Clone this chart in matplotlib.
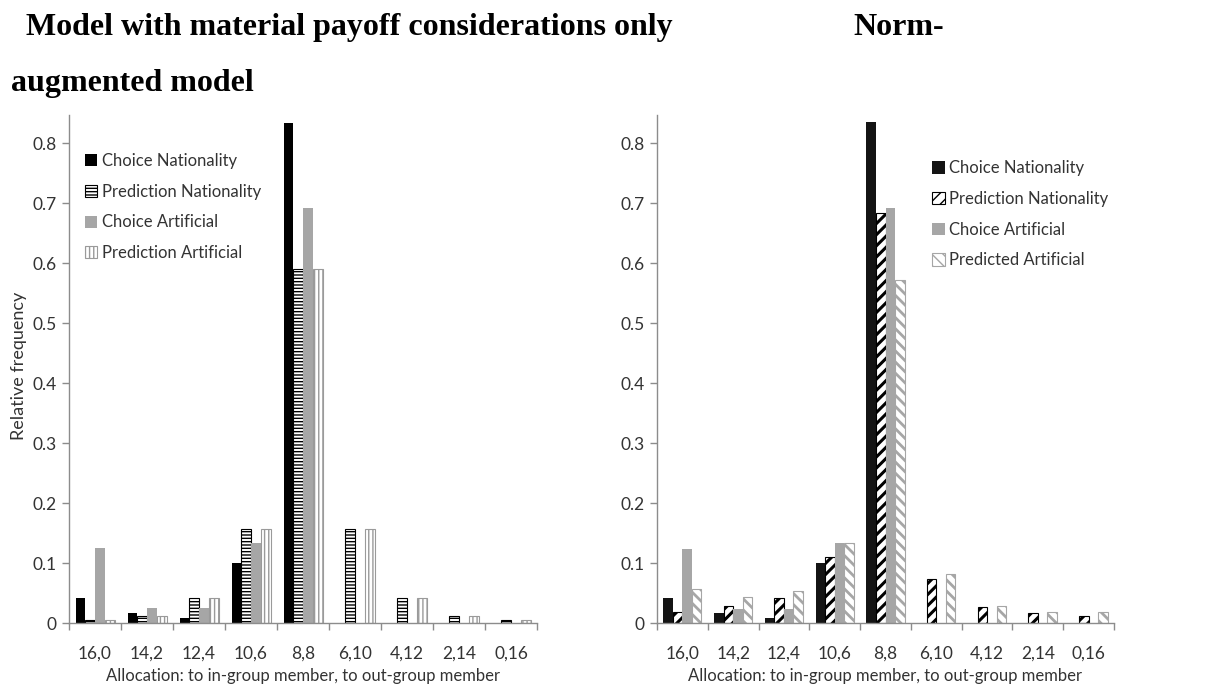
import matplotlib
matplotlib.use("Agg")
import matplotlib.pyplot as plt
import numpy as np

categories = ["16,0", "14,2", "12,4", "10,6", "8,8", "6,10", "4,12", "2,14", "0,16"]

# Left panel: model with material payoff considerations only
left_choice_nat = [0.042, 0.016, 0.008, 0.100, 0.833, 0.0, 0.0, 0.0, 0.0]
left_pred_nat = [0.005, 0.012, 0.042, 0.156, 0.590, 0.156, 0.042, 0.012, 0.005]
left_choice_art = [0.125, 0.025, 0.025, 0.134, 0.692, 0.0, 0.0, 0.0, 0.0]
left_pred_art = [0.005, 0.012, 0.042, 0.156, 0.590, 0.156, 0.042, 0.012, 0.005]

# Right panel: norm-augmented model
right_choice_nat = [0.042, 0.016, 0.008, 0.100, 0.835, 0.0, 0.0, 0.0, 0.0]
right_pred_nat = [0.018, 0.028, 0.042, 0.110, 0.683, 0.074, 0.027, 0.017, 0.012]
right_choice_art = [0.124, 0.024, 0.024, 0.134, 0.692, 0.0, 0.0, 0.0, 0.0]
right_pred_art = [0.056, 0.044, 0.053, 0.134, 0.572, 0.082, 0.028, 0.018, 0.018]

left_labels = ["Choice Nationality", "Prediction Nationality", "Choice Artificial", "Prediction Artificial"]
right_labels = ["Choice Nationality", "Prediction Nationality", "Choice Artificial", "Predicted Artificial"]
ytick_vals = [0, 0.1, 0.2, 0.3, 0.4, 0.5, 0.6, 0.7, 0.8]
ytick_labels = ["0", "0.1", "0.2", "0.3", "0.4", "0.5", "0.6", "0.7", "0.8"]

FONT = "Lato"
TXT = "#333333"
AXC = "#8c8c8c"
GRAY = "#a6a6a6"

W, H = 1217, 688
fig = plt.figure(figsize=(W / 100, H / 100), dpi=100)


def px_axes(x0, x1, ytop, ybot):
    return fig.add_axes([x0 / W, 1 - ybot / H, (x1 - x0) / W, (ybot - ytop) / H])


ax1 = px_axes(69, 537, 115, 623)
ax2 = px_axes(657, 1114, 115, 623)

bw = 0.1875
x = np.arange(len(categories))


def set_hlw(patches, lw):
    for p in patches:
        if hasattr(p, "set_hatch_linewidth"):
            p.set_hatch_linewidth(lw)


def draw(ax, series, labels, styles):
    handles = []
    for i, (vals, lab, st) in enumerate(zip(series, labels, styles)):
        with plt.rc_context({"hatch.linewidth": st.get("hlw", 1.0)}):
            b = ax.bar(x + (i - 1.5) * bw, vals, width=bw, color=st["fc"],
                       edgecolor=st["ec"], hatch=st.get("hatch"), linewidth=st.get("lw", 0),
                       label=lab, zorder=2)
        set_hlw(b.patches, st.get("hlw", 1.0))
        handles.append(b)
    ax.set_xlim(-0.5, len(categories) - 0.5)
    ax.set_ylim(0, 0.847)
    ax.set_yticks(ytick_vals)
    ax.set_yticklabels(ytick_labels, fontsize=12.5, color=TXT, family=FONT)
    ax.set_xticks(np.arange(-0.5, len(categories)), minor=False)
    ax.set_xticklabels([])
    ax.set_xticks(x, minor=True)
    ax.set_xticklabels(categories, minor=True, fontsize=12.5, color=TXT, family=FONT)
    ax.tick_params(axis="x", which="major", length=5, color=AXC, width=1)
    ax.tick_params(axis="x", which="minor", length=0, pad=16)
    ax.tick_params(axis="y", length=5, color=AXC, width=1, pad=4)
    for s in ["top", "right"]:
        ax.spines[s].set_visible(False)
    for s in ["left", "bottom"]:
        ax.spines[s].set_color(AXC)
        ax.spines[s].set_linewidth(1)
    ax.set_xlabel("Allocation: to in-group member, to out-group member",
                  fontsize=12, color=TXT, family=FONT, labelpad=5)
    return handles


left_styles = [
    {"fc": "#000000", "ec": "#000000"},
    {"fc": "white", "ec": "#000000", "hatch": "-----", "lw": 0.8, "hlw": 1.0},
    {"fc": GRAY, "ec": GRAY},
    {"fc": "white", "ec": "#9a9a9a", "hatch": "||||", "lw": 0.8, "hlw": 1.0},
]
right_styles = [
    {"fc": "#141414", "ec": "#141414"},
    {"fc": "white", "ec": "#000000", "hatch": "///", "lw": 0.8, "hlw": 2.2},
    {"fc": GRAY, "ec": GRAY},
    {"fc": "white", "ec": "#a6a6a6", "hatch": "\\\\\\", "lw": 0.8, "hlw": 2.0},
]

h1 = draw(ax1, [left_choice_nat, left_pred_nat, left_choice_art, left_pred_art], left_labels, left_styles)
h2 = draw(ax2, [right_choice_nat, right_pred_nat, right_choice_art, right_pred_art], right_labels, right_styles)

legkw = dict(frameon=False, prop={"family": FONT, "size": 12}, handlelength=0.75,
             handleheight=0.75, handletextpad=0.25, labelspacing=0.88, borderpad=0,
             borderaxespad=0, loc="upper left", labelcolor=TXT)
ax1.legend(handles=h1, bbox_to_anchor=(0.034, 0.925), **legkw)
ax2.legend(handles=h2, bbox_to_anchor=(0.602, 0.911), **legkw)

fig.text(19 / W, 1 - 366 / H, "Relative frequency", rotation=90, ha="center", va="center",
         fontsize=13, color=TXT, family=FONT)

TFONT = "Liberation Serif"
fig.text(26 / W, 1 - 35 / H, "Model with material payoff considerations only",
         fontsize=23, fontweight="bold", family=TFONT, ha="left", va="baseline")
fig.text(853 / W, 1 - 35 / H, "Norm-", fontsize=23, fontweight="bold", family=TFONT,
         ha="left", va="baseline")
fig.text(11 / W, 1 - 91 / H, "augmented model", fontsize=23, fontweight="bold", family=TFONT,
         ha="left", va="baseline")

fig.savefig("out.png", dpi=100)
